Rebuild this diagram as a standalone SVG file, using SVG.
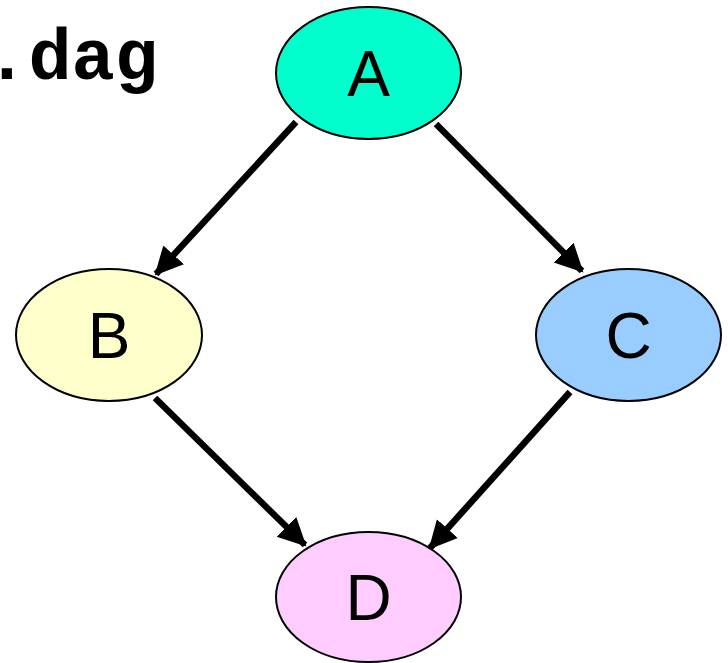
<svg xmlns="http://www.w3.org/2000/svg" width="728" height="663" viewBox="0 0 728 663">
<style>
.n{stroke:#000;stroke-width:2}
.l{font-family:"Liberation Sans",Arial,sans-serif;font-size:64px;text-anchor:middle;fill:#000}
.e{stroke:#000;stroke-width:6.5;fill:none;marker-end:url(#ah)}
</style>
<defs>
<marker id="ah" markerUnits="userSpaceOnUse" markerWidth="30" markerHeight="30" refX="26" refY="14" orient="auto" viewBox="0 0 30 28">
<path d="M0,0 L28,14 L0,28 Z" fill="#000"/>
</marker>
</defs>
<rect width="728" height="663" fill="#fff"/>
<text x="158" y="79" font-family="'Liberation Mono','Courier New',monospace" font-weight="bold" font-size="72" text-anchor="end">.dag</text>
<g id="edges">
<line class="e" x1="296" y1="122" x2="156" y2="274"/>
<line class="e" x1="436" y1="124" x2="582" y2="271"/>
<line class="e" x1="155" y1="398" x2="305" y2="545"/>
<line class="e" x1="570" y1="392" x2="430" y2="548"/>
</g>
<g id="A"><ellipse class="n" cx="368.5" cy="73" rx="92.5" ry="66" fill="#00ffcc"/><text class="l" x="368.5" y="96">A</text></g>
<g id="B"><ellipse class="n" cx="109" cy="335" rx="93" ry="66" fill="#ffffcc"/><text class="l" x="109" y="358">B</text></g>
<g id="C"><ellipse class="n" cx="628.5" cy="335" rx="92.5" ry="66" fill="#99ccff"/><text class="l" x="628.5" y="358">C</text></g>
<g id="D"><ellipse class="n" cx="368.5" cy="597" rx="92.5" ry="65" fill="#ffccff"/><text class="l" x="368.5" y="620">D</text></g>
</svg>
